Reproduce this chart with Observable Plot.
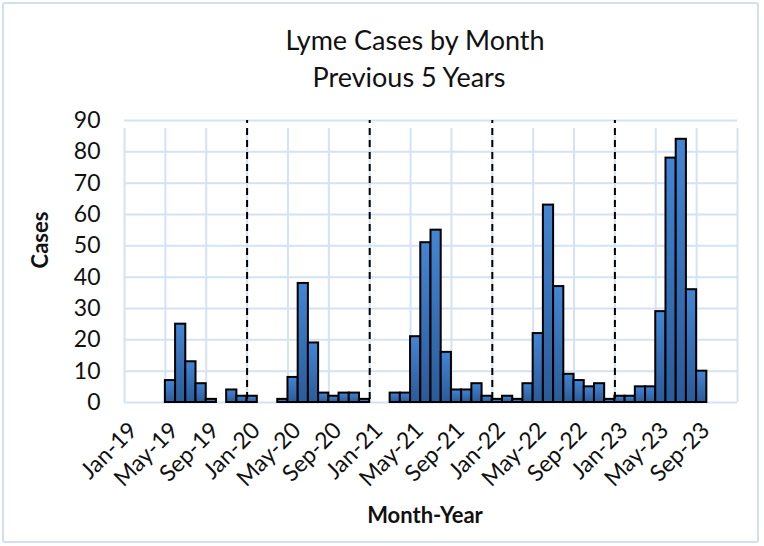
<!DOCTYPE html>
<html><head><meta charset="utf-8">
<script src="https://cdn.jsdelivr.net/npm/d3@7"></script>
<script src="https://cdn.jsdelivr.net/npm/@observablehq/plot@0.6"></script>
<style>body{margin:0;background:#fff;font-family:Lato,"Open Sans",sans-serif;}</style>
</head><body><div id="chart"></div>
<script>
// Monthly Lyme cases, Jan-19 .. Sep-23 (one value per month)
const cases = [
  0,0,0,0,7,25,13,6,1,0,4,2,
  2,0,0,1,8,38,19,3,2,3,3,1,
  0,0,3,3,21,51,55,16,4,4,6,2,
  1,2,1,6,22,63,37,9,7,5,6,1,
  2,2,5,5,29,78,84,36,10
];
const tickLabels = ["Jan-19","May-19","Sep-19","Jan-20","May-20","Sep-20","Jan-21","May-21","Sep-21","Jan-22","May-22","Sep-22","Jan-23","May-23","Sep-23"];
const yearBreaks = ["Jan-20","Jan-21","Jan-22","Jan-23"];
const yTicks = [0,10,20,30,40,50,60,70,80,90];
const monthsPerTick = 4;
const totalMonths = 60; // axis runs Jan-19 .. Jan-24

const bars = cases.map((v, i) => ({i, v})).filter(d => d.v > 0);
const tickPos = tickLabels.map((_, k) => k * monthsPerTick);
const gridPos = [...tickPos, totalMonths];
const breakPos = yearBreaks.map(b => tickLabels.indexOf(b) * monthsPerTick);

const grid = "#d5e2f3";
const W = 764, H = 546;

const plot = Plot.plot({
  width: W, height: H,
  marginTop: 120, marginBottom: 144, marginLeft: 124, marginRight: 27,
  style: {fontFamily: "Lato, 'Open Sans', sans-serif", fontSize: "20px", color: "#111", background: "#fff"},
  x: {type: "linear", domain: [0, totalMonths]},
  y: {domain: [0, 90]},
  marks: [
    Plot.ruleY(yTicks, {x1: 0, x2: totalMonths, stroke: grid, strokeWidth: 2}),
    Plot.ruleX(gridPos, {y1: 0, y2: 90, stroke: grid, strokeWidth: 2, insetBottom: -8}),
    Plot.rectY(bars, {x1: d => d.i, x2: d => d.i + 1, y: "v", fill: "url(#barGrad)", stroke: "#000", strokeWidth: 2, ariaLabel: "bars"}),
    Plot.ruleX(breakPos, {y1: 0, y2: 90, insetTop: -3, stroke: "#000", strokeWidth: 2, strokeDasharray: "7,5"}),
    Plot.axisY(yTicks, {tickSize: 0, tickPadding: 24, fontSize: 23, label: null}),
    Plot.axisX(tickPos, {tickSize: 0, tickPadding: 24, tickRotate: -45, dx: 9, fontSize: 23, label: null,
      tickFormat: d => tickLabels[d / monthsPerTick]})
  ]
});

const svg = d3.select(plot);
svg.selectAll('g[aria-label="x-axis tick label"]').attr("font-size", 23).style("font-size", "23px");
svg.selectAll('g[aria-label="y-axis tick label"]').attr("font-size", 23).style("font-size", "23px");

const defs = svg.insert("defs", ":first-child");
const g = defs.append("linearGradient").attr("id", "barGrad").attr("x1", 0).attr("y1", 0).attr("x2", 0).attr("y2", 1);
g.append("stop").attr("offset", "0%").attr("stop-color", "#4485d3");
g.append("stop").attr("offset", "100%").attr("stop-color", "#2b5b99");
const f = defs.append("filter").attr("id", "shadow").attr("x", "-20%").attr("y", "-20%").attr("width", "150%").attr("height", "150%");
f.append("feDropShadow").attr("dx", 2).attr("dy", 2).attr("stdDeviation", 1.5).attr("flood-color", "#000").attr("flood-opacity", 0.35);
svg.select('g[aria-label="bars"]').attr("filter", "url(#shadow)");

// outer frame
svg.insert("rect", "defs + *").attr("x", 3).attr("y", 3).attr("width", 755).attr("height", 539)
  .attr("fill", "none").attr("stroke", "#d3deef").attr("stroke-width", 2).attr("rx", 2);

const txt = (x, y, s, opts = {}) => svg.append("text").attr("x", x).attr("y", y)
  .attr("text-anchor", "middle").attr("fill", "#111")
  .style("font-size", (opts.size || 25) + "px").style("font-weight", opts.bold ? "bold" : "normal")
  .attr("transform", opts.rotate ? `rotate(${opts.rotate},${x},${y})` : null).text(s);

txt(415, 50, "Lyme Cases by Month", {size: 27});
txt(409, 87, "Previous 5 Years", {size: 27});
txt(425, 523, "Month-Year", {size: 22, bold: true});
txt(48, 240, "Cases", {size: 22, bold: true, rotate: -90});

document.getElementById("chart").appendChild(plot);
</script>
</body></html>
